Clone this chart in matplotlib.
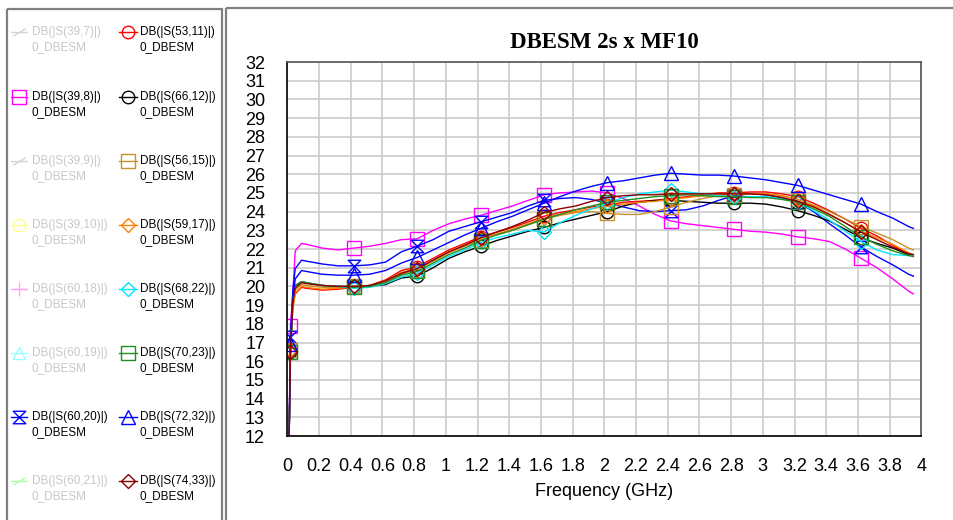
import numpy as np
import matplotlib
matplotlib.use("Agg")
import matplotlib.pyplot as plt
from matplotlib.path import Path
from matplotlib.patches import Rectangle

plt.rcParams['font.family'] = ['Liberation Sans', 'DejaVu Sans']

# frequency grid (GHz) and marker positions
FREQ = [0.008, 0.02, 0.035, 0.05, 0.09, 0.12, 0.22, 0.32, 0.42, 0.52, 0.62, 0.72,
        0.82, 0.92, 1.02, 1.12, 1.22, 1.32, 1.42, 1.52, 1.62, 1.72, 1.82, 1.92,
        2.02, 2.12, 2.22, 2.32, 2.42, 2.52, 2.62, 2.72, 2.82, 2.92, 3.02, 3.12,
        3.22, 3.32, 3.42, 3.52, 3.62, 3.72, 3.82, 3.92, 3.95]
MARK_FREQ = [0.02, 0.42, 0.82, 1.22, 1.62, 2.02, 2.42, 2.82, 3.22, 3.62]

S39_8 = [10.0, 17.9, 19.6, 21.9, 22.3, 22.25, 22.05, 21.95, 22.05, 22.15, 22.3, 22.5,
         22.55, 23.0, 23.35, 23.6, 23.8, 24.05, 24.3, 24.6, 24.9, 25.0, 25.05, 25.1,
         25.0, 24.7, 24.3, 23.85, 23.5, 23.35, 23.25, 23.15, 23.05, 22.95, 22.9, 22.8,
         22.65, 22.55, 22.4, 22.0, 21.5, 21.0, 20.4, 19.75, 19.6]
S60_20 = [10.0, 17.3, 19.8, 20.95, 21.4, 21.35, 21.2, 21.1, 21.1, 21.15, 21.3, 21.85,
          22.15, 22.5, 22.95, 23.2, 23.45, 23.7, 23.95, 24.3, 24.6, 24.7, 24.75, 24.65,
          24.45, 24.25, 24.05, 24.0, 24.05, 24.1, 24.3, 24.6, 24.85, 24.95, 24.9, 24.75,
          24.5, 24.0, 23.35, 22.75, 22.1, 21.6, 21.15, 20.65, 20.55]
S53_11 = [10.0, 16.6, 18.9, 19.6, 19.95, 19.9, 19.8, 19.85, 19.95, 20.05, 20.35, 20.85,
          21.05, 21.5, 21.95, 22.3, 22.65, 22.9, 23.15, 23.45, 23.75, 23.95, 24.1, 24.25,
          24.35, 24.5, 24.55, 24.6, 24.7, 24.8, 24.9, 25.0, 25.0, 25.05, 25.05, 24.95,
          24.8, 24.45, 24.05, 23.6, 23.1, 22.7, 22.2, 21.7, 21.6]
S66_12 = [10.0, 16.5, 19.3, 20.05, 20.25, 20.2, 20.05, 20.0, 20.0, 20.0, 20.1, 20.45,
          20.55, 21.0, 21.5, 21.85, 22.15, 22.45, 22.7, 22.95, 23.15, 23.4, 23.6, 23.8,
          24.0, 24.3, 24.5, 24.6, 24.6, 24.55, 24.5, 24.45, 24.45, 24.45, 24.4, 24.25,
          24.05, 23.8, 23.5, 23.05, 22.6, 22.3, 22.05, 21.7, 21.65]
S56_15 = [10.0, 16.6, 19.0, 19.8, 20.1, 20.05, 19.95, 19.95, 20.0, 20.05, 20.25, 20.65,
          20.9, 21.35, 21.8, 22.15, 22.5, 22.75, 23.0, 23.3, 23.6, 23.8, 23.95, 24.0,
          23.9, 23.85, 23.85, 24.0, 24.25, 24.5, 24.7, 24.85, 24.9, 24.95, 24.95, 24.85,
          24.65, 24.35, 24.0, 23.6, 23.2, 22.85, 22.5, 22.05, 21.95]
S59_17 = [10.0, 16.6, 18.9, 19.65, 20.0, 19.95, 19.85, 19.9, 19.95, 20.05, 20.3, 20.75,
          20.95, 21.4, 21.85, 22.2, 22.55, 22.8, 23.05, 23.35, 23.65, 23.85, 24.0, 24.15,
          24.3, 24.4, 24.5, 24.55, 24.65, 24.75, 24.85, 24.9, 24.95, 24.95, 24.95, 24.85,
          24.65, 24.3, 23.85, 23.4, 22.95, 22.6, 22.25, 21.8, 21.7]
S68_22 = [10.0, 16.5, 19.3, 20.0, 20.25, 20.2, 20.05, 20.0, 19.9, 19.95, 20.15, 20.5,
          20.7, 21.15, 21.6, 21.95, 22.35, 22.6, 22.8, 23.0, 22.9, 23.4, 23.8, 24.15,
          24.45, 24.75, 24.95, 25.05, 25.15, 25.05, 24.95, 24.85, 24.8, 24.8, 24.8, 24.7,
          24.5, 24.05, 23.55, 22.95, 22.4, 21.95, 21.7, 21.65, 21.65]
S70_23 = [10.0, 16.5, 19.3, 20.0, 20.25, 20.2, 20.05, 20.0, 19.95, 20.0, 20.2, 20.6,
          20.8, 21.25, 21.7, 22.05, 22.45, 22.75, 23.0, 23.3, 23.6, 23.85, 24.1, 24.3,
          24.5, 24.6, 24.7, 24.8, 24.85, 24.9, 24.85, 24.8, 24.8, 24.75, 24.75, 24.65,
          24.5, 24.15, 23.75, 23.2, 22.65, 22.25, 21.9, 21.65, 21.6]
S72_32 = [10.0, 16.9, 19.3, 20.4, 20.85, 20.8, 20.65, 20.6, 20.6, 20.65, 20.85, 21.25,
          21.55, 21.95, 22.35, 22.75, 23.1, 23.45, 23.75, 24.1, 24.45, 24.8, 25.1, 25.35,
          25.55, 25.65, 25.8, 25.95, 26.05, 26.0, 25.95, 25.95, 25.9, 25.8, 25.7, 25.55,
          25.4, 25.15, 24.9, 24.65, 24.4, 24.0, 23.65, 23.2, 23.1]
S74_33 = [10.0, 16.5, 19.2, 19.9, 20.2, 20.15, 20.05, 20.0, 20.0, 20.05, 20.3, 20.7,
          20.95, 21.4, 21.85, 22.2, 22.6, 22.9, 23.2, 23.55, 23.95, 24.15, 24.3, 24.55,
          24.75, 24.85, 24.9, 24.9, 24.95, 24.95, 24.95, 24.95, 24.95, 24.95, 24.9, 24.75,
          24.55, 24.25, 23.85, 23.4, 22.9, 22.5, 22.1, 21.75, 21.7]

XTICKS = [0, 0.2, 0.4, 0.6, 0.8, 1, 1.2, 1.4, 1.6, 1.8, 2, 2.2, 2.4, 2.6, 2.8, 3,
          3.2, 3.4, 3.6, 3.8, 4]
XTICK_LABELS = ['0', '0.2', '0.4', '0.6', '0.8', '1', '1.2', '1.4', '1.6', '1.8', '2',
                '2.2', '2.4', '2.6', '2.8', '3', '3.2', '3.4', '3.6', '3.8', '4']
YTICKS = list(range(12, 33))

# custom marker shapes
HOURGLASS = Path([(-1, 1), (1, 1), (-1, -1), (1, -1), (-1, 1)],
                 [Path.MOVETO, Path.LINETO, Path.LINETO, Path.LINETO, Path.CLOSEPOLY])
SLASH = Path([(-1, -0.6), (1, 0.6)], [Path.MOVETO, Path.LINETO])

# (label, values or None, colour, marker, marker size, active)
LEFT_SERIES = [
    ('DB(|S(39,7)|)', None, '#d4d4d4', SLASH, 9, False),
    ('DB(|S(39,8)|)', S39_8, '#ff00ff', 's', 10, True),
    ('DB(|S(39,9)|)', None, '#d4d4d4', SLASH, 9, False),
    ('DB(|S(39,10)|)', None, '#ffff88', 'o', 9, False),
    ('DB(|S(60,18)|)', None, '#ffaaee', '+', 10, False),
    ('DB(|S(60,19)|)', None, '#99ffff', '^', 9, False),
    ('DB(|S(60,20)|)', S60_20, '#0000ff', HOURGLASS, 9, True),
    ('DB(|S(60,21)|)', None, '#aaffaa', SLASH, 9, False),
]
RIGHT_SERIES = [
    ('DB(|S(53,11)|)', S53_11, '#ff0000', 'o', 9, True),
    ('DB(|S(66,12)|)', S66_12, '#000000', 'o', 9, True),
    ('DB(|S(56,15)|)', S56_15, '#c8922a', 's', 10, True),
    ('DB(|S(59,17)|)', S59_17, '#ff8000', 'D', 7.5, True),
    ('DB(|S(68,22)|)', S68_22, '#00e5ff', 'D', 7.5, True),
    ('DB(|S(70,23)|)', S70_23, '#1f8f1f', 's', 10, True),
    ('DB(|S(72,32)|)', S72_32, '#0000ff', '^', 10, True),
    ('DB(|S(74,33)|)', S74_33, '#8b0000', 'D', 7.5, True),
]

W, H = 954, 520
fig = plt.figure(figsize=(W / 100, H / 100), dpi=100)
ax = fig.add_axes([287.3 / W, 1 - 436 / H, 634 / W, 374 / H])

mark_idx = [i for i, f in enumerate(FREQ) if any(abs(f - m) < 1e-9 for m in MARK_FREQ)]
for label, vals, col, mk, ms, on in LEFT_SERIES + RIGHT_SERIES:
    if vals is None:
        continue
    ax.plot(FREQ, vals, color=col, lw=1.0, marker=mk, ms=ms, mfc='none',
            mec=col, mew=1.0, markevery=mark_idx, clip_on=True)

ax.set_xlim(0, 4)
ax.set_ylim(12, 32)
ax.set_xticks(XTICKS)
ax.set_xticklabels(XTICK_LABELS)
ax.set_yticks(YTICKS)
ax.tick_params(length=0, labelsize=13, pad=16)
ax.grid(True, color='#cccccc', lw=1.2)
ax.set_axisbelow(True)
for side in ('left', 'bottom'):
    ax.spines[side].set_color('black')
    ax.spines[side].set_linewidth(1.2)
for side in ('top', 'right'):
    ax.spines[side].set_color('#555555')
    ax.spines[side].set_linewidth(1.2)

fig.text(604 / W, 1 - 43 / H, 'DBESM 2s x MF10', ha='center', va='center',
         family='Liberation Serif', weight='bold', fontsize=16.5)
fig.text(604 / W, 1 - 491 / H, 'Frequency (GHz)', ha='center', va='center', fontsize=13)

# overlay in pixel coordinates for the legend panel and the frames
lax = fig.add_axes([0, 0, 1, 1], facecolor='none')
lax.set_xlim(0, W)
lax.set_ylim(H, 0)
lax.axis('off')
lax.add_patch(Rectangle((7, 9), 215, 540, fill=False, ec='#808080', lw=1.6, clip_on=False))
lax.add_patch(Rectangle((226, 8), 760, 540, fill=False, ec='#808080', lw=1.6, clip_on=False))

row_y = [32, 97, 161, 225, 289, 353, 417, 481]
for col_series, (x0, x1, xt) in ((LEFT_SERIES, (11, 27, 32)), (RIGHT_SERIES, (119, 137, 140))):
    for (label, vals, col, mk, ms, on), y in zip(col_series, row_y):
        lax.plot([x0, x1], [y, y], color=col, lw=1.0)
        lax.plot([(x0 + x1) / 2], [y], marker=mk, ms=ms, mfc='none', mec=col, mew=1.0)
        tcol = 'black' if on else '#c8c8c8'
        lax.text(xt, y, label, color=tcol, fontsize=8.5, va='center', ha='left')
        lax.text(xt, y + 15.5, '0_DBESM', color=tcol, fontsize=8.5, va='center', ha='left')

fig.savefig('out.png', dpi=100)
